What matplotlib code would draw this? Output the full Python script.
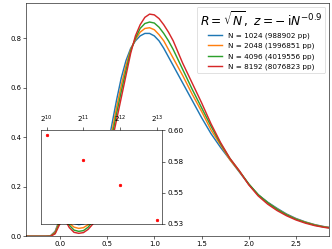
import numpy as np
import matplotlib
matplotlib.use("Agg")
import matplotlib.pyplot as plt

# grid of x positions
x = [-0.4, -0.15, -0.1, -0.05, 0.0, 0.05, 0.1, 0.15, 0.2, 0.25, 0.3, 0.35, 0.4,
     0.45, 0.5, 0.55, 0.6, 0.65, 0.7, 0.75, 0.8, 0.85, 0.9, 0.95, 1.0, 1.05,
     1.1, 1.15, 1.2, 1.3, 1.4, 1.5, 1.6, 1.7, 1.8, 1.9, 2.0, 2.1, 2.2, 2.3,
     2.4, 2.5, 2.6, 2.7, 2.8, 2.9]

y_1024 = [0.0, 0.0, 0.002, 0.02, 0.07, 0.08, 0.065, 0.052, 0.047, 0.05, 0.06,
          0.09, 0.16, 0.25, 0.35, 0.45, 0.55, 0.64, 0.71, 0.76, 0.79, 0.81,
          0.82, 0.82, 0.81, 0.79, 0.76, 0.725, 0.69, 0.62, 0.55, 0.48, 0.415,
          0.36, 0.31, 0.26, 0.21, 0.168, 0.138, 0.113, 0.09, 0.072, 0.058,
          0.047, 0.039, 0.034]
y_2048 = [0.0, 0.0, 0.001, 0.017, 0.065, 0.077, 0.053, 0.037, 0.032, 0.035,
          0.047, 0.075, 0.13, 0.22, 0.32, 0.42, 0.52, 0.61, 0.69, 0.755, 0.795,
          0.825, 0.84, 0.843, 0.835, 0.815, 0.79, 0.755, 0.72, 0.65, 0.575,
          0.505, 0.43, 0.37, 0.31, 0.262, 0.21, 0.167, 0.136, 0.11, 0.088,
          0.07, 0.057, 0.046, 0.038, 0.033]
y_4096 = [0.0, 0.0, 0.0, 0.013, 0.058, 0.074, 0.045, 0.025, 0.02, 0.023, 0.037,
          0.062, 0.11, 0.195, 0.295, 0.40, 0.495, 0.585, 0.67, 0.75, 0.80,
          0.84, 0.86, 0.866, 0.862, 0.845, 0.82, 0.79, 0.755, 0.675, 0.595,
          0.52, 0.445, 0.375, 0.315, 0.264, 0.212, 0.168, 0.136, 0.109, 0.087,
          0.069, 0.056, 0.045, 0.037, 0.032]
y_8192 = [0.0, 0.0, 0.0, 0.01, 0.05, 0.07, 0.035, 0.016, 0.012, 0.015, 0.028,
          0.05, 0.09, 0.17, 0.27, 0.38, 0.47, 0.56, 0.65, 0.74, 0.81, 0.855,
          0.885, 0.898, 0.895, 0.88, 0.855, 0.825, 0.79, 0.70, 0.62, 0.54,
          0.455, 0.38, 0.315, 0.265, 0.208, 0.163, 0.13, 0.104, 0.083, 0.066,
          0.053, 0.043, 0.036, 0.031]

labels = ['N = 1024 (988902 pp)', 'N = 2048 (1996851 pp)',
          'N = 4096 (4019556 pp)', 'N = 8192 (8076823 pp)']

# inset: value against N
n_vals = [1024, 2048, 4096, 8192]
inset_vals = [0.5965, 0.5764, 0.5559, 0.528]
inset_yticks = [0.525, 0.55, 0.575, 0.6]
inset_ylabels = ['0.53', '0.55', '0.58', '0.60']

fig = plt.figure(figsize=(6.4, 4.8), dpi=51.875)
ax = fig.add_axes([0.079, 0.051, 0.911, 0.937])

for ys, lab in zip([y_1024, y_2048, y_4096, y_8192], labels):
    ax.plot(x, ys, label=lab, lw=2)

ax.set_xlim(-0.356, 2.846)
ax.set_ylim(0, 0.943)
ax.set_xticks([0.0, 0.5, 1.0, 1.5, 2.0, 2.5])
ax.set_yticks([0.0, 0.2, 0.4, 0.6, 0.8])
ax.tick_params(labelsize=9.5)
ax.legend(title=r'$R=\sqrt{N},\ z=-\,\mathrm{i}N^{-0.9}$', loc='upper right',
          title_fontsize=17, fontsize=10)

# inset
axins = fig.add_axes([0.124, 0.099, 0.365, 0.377])
axins.set_zorder(5)
axins.plot(n_vals, inset_vals, '.', color='red', markersize=7)
axins.set_xscale('log', base=2)
axins.set_xticks(n_vals)
axins.set_yticks(inset_yticks)
axins.set_yticklabels(inset_ylabels)
axins.set_ylim(0.5246, 0.6)
axins.xaxis.tick_top()
axins.yaxis.tick_right()
axins.minorticks_off()
axins.tick_params(labelsize=10)

fig.savefig('out.png', dpi=51.875)
